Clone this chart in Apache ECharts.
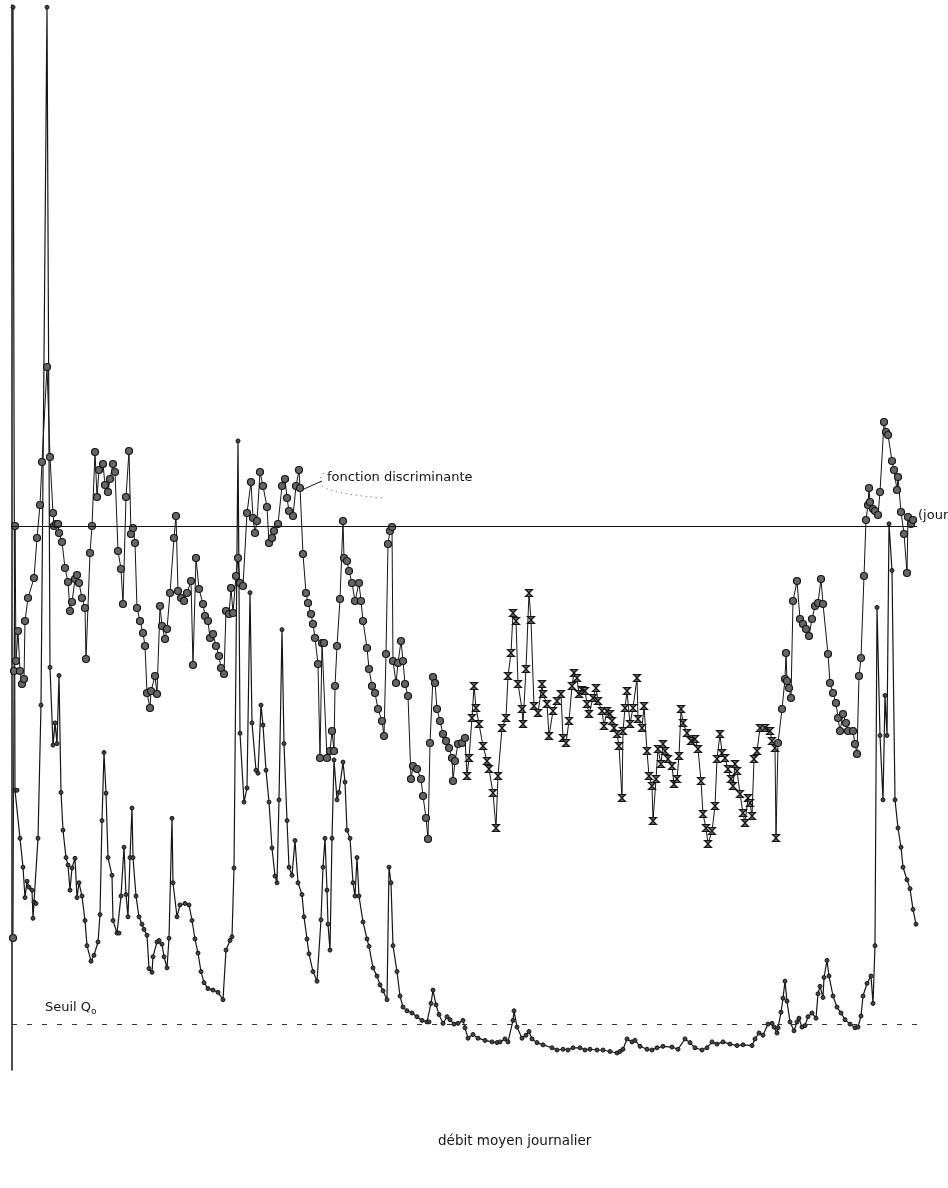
<!DOCTYPE html>
<html>
<head>
<meta charset="utf-8">
<script src="https://cdn.jsdelivr.net/npm/echarts@6/dist/echarts.min.js"></script>
<style>
  html, body { margin: 0; padding: 0; background: #fff; }
  #chart { width: 948px; height: 1188px; }
</style>
</head>
<body>
<div id="chart"></div>
<script>
// fonction discriminante : [jour, valeur]
const discriminant = [
  [0.4,-41.2],[0.8,-14.5],[1.2,0],[1.6,-13.5],[2.4,-10.5],[3.2,-14.5],[4.0,-15.8],[4.8,-15.3],[5.2,-9.5],[6.4,-7.2],
  [8.8,-5.2],[10.0,-1.2],[11.2,2.1],[12.0,6.4],[14.0,15.9],[15.2,6.9],[16.4,1.3],[16.8,0],[17.6,0.2],[18.4,0.2],
  [18.8,-0.7],[20.0,-1.6],[21.2,-4.2],[22.4,-5.6],[23.2,-8.5],[24.0,-7.6],[25.2,-5.3],[26.0,-4.9],[26.8,-5.7],[28.0,-7.2],
  [29.2,-8.2],[29.6,-13.3],[31.2,-2.7],[32.0,0],[33.2,7.4],[34.0,2.9],[34.8,5.6],[36.4,6.2],[37.2,4.1],[38.4,3.4],
  [39.2,4.7],[40.4,6.2],[41.2,5.4],[42.4,-2.5],[43.6,-4.3],[44.4,-7.8],[45.6,2.9],[46.8,7.5],[47.6,-0.8],[48.4,-0.2],
  [49.2,-1.7],[50.0,-8.2],[51.2,-9.5],[52.4,-10.7],[53.2,-12.0],[54.0,-16.7],[55.2,-18.2],[55.6,-16.5],[57.2,-15.0],[58.0,-16.8],
  [59.2,-8.0],[60.0,-10.0],[61.2,-11.3],[62.0,-10.3],[63.2,-6.7],[64.8,-1.2],[65.6,1.0],[66.4,-6.5],[67.6,-7.2],[68.8,-7.5],
  [70.0,-6.7],[71.6,-5.5],[72.4,-13.9],[73.6,-3.2],[74.8,-6.3],[76.4,-7.8],[77.2,-9.0],[78.4,-9.5],[79.2,-11.2],[80.4,-10.8],
  [81.6,-12.0],[82.8,-13.0],[83.6,-14.2],[84.8,-14.8],[85.6,-8.5],[86.8,-8.8],[87.6,-6.2],[88.4,-8.7],[89.6,-5.0],[90.4,-3.2],
  [91.2,-5.7],[92.4,-6.0],[94.0,1.3],[95.6,4.4],[96.4,0.8],[97.2,-0.7],[98.0,0.5],[99.2,5.4],[100.4,4.0],[102.0,1.9],
  [102.8,-1.7],[104.0,-1.2],[104.8,-0.5],[106.4,0.2],[108.0,4.0],[109.2,4.7],[110.0,2.8],[110.8,1.5],[112.4,1.0],[113.6,4.0],
  [114.8,5.6],[115.2,3.8],[116.4,-2.8],[117.6,-6.7],[118.4,-7.7],[119.6,-8.8],[120.4,-9.8],[121.2,-11.2],[122.4,-13.8],[123.2,-23.2],
  [124.0,-11.7],[124.8,-11.7],[126.0,-23.2],[127.2,-22.5],[128.0,-20.5],[128.8,-22.5],[129.2,-16.0],[130.0,-12.0],[131.2,-7.3],[132.4,0.5],
  [132.8,-3.2],[134.0,-3.5],[134.8,-4.5],[136.0,-5.7],[137.2,-7.5],[138.8,-5.7],[139.6,-7.5],[140.4,-9.5],[142.0,-12.2],[142.8,-14.3],
  [144.0,-16.0],[145.2,-16.7],[146.4,-18.3],[148.0,-19.5],[148.8,-21.0],[149.6,-12.8],[150.4,-1.8],[151.2,-0.5],[152.0,-0.1],[152.4,-13.5],
  [153.6,-15.7],[154.4,-13.7],[155.6,-11.5],[156.4,-13.5],[157.2,-15.8],[158.4,-17.0],[159.6,-25.3],[160.4,-24.0],[162.0,-24.3],[163.6,-25.3],
  [164.4,-27.0],[165.6,-29.2],[166.4,-31.3],[167.2,-21.7],[168.4,-15.1],[169.2,-15.7],[170.0,-18.3],[171.2,-19.5],[172.4,-20.8],[173.6,-21.5],
  [174.8,-22.2],[176.0,-23.2],[176.4,-25.5],[177.2,-23.5],[178.4,-21.8],[180.0,-21.7],[181.2,-21.2],[182.0,-25.0],[182.8,-23.2],[184.0,-19.2],
  [184.8,-16.0],[185.6,-18.2],[186.8,-19.8],[188.4,-22.0],[190.0,-23.5],[190.8,-24.3],[192.4,-26.7],[193.6,-30.2],[194.4,-25.0],[196.0,-20.2],
  [197.6,-19.2],[198.4,-15.0],[199.6,-12.7],[200.4,-8.7],[201.6,-9.5],[202.4,-15.8],[204.0,-18.3],[204.4,-19.8],[205.6,-14.3],[206.8,-6.7],
  [207.6,-9.4],[208.8,-18.0],[210.4,-18.7],[212.0,-15.8],[212.4,-16.8],[214.0,-17.8],[214.8,-21.0],[216.4,-18.5],[218.0,-17.5],[219.6,-16.8],
  [220.4,-21.2],[221.6,-21.7],[222.8,-19.5],[224.0,-16.0],[224.8,-14.7],[226.0,-15.2],[226.8,-16.8],[228.0,-16.4],[229.2,-16.5],[230.0,-17.8],
  [230.8,-18.8],[232.4,-17.2],[233.6,-16.2],[234.4,-17.5],[236.0,-18.5],[236.8,-20.0],[238.0,-18.5],[239.2,-18.8],[240.0,-19.5],[240.8,-20.2],
  [242.0,-20.8],[242.8,-22.0],[244.0,-27.2],[244.4,-20.5],[245.2,-18.2],[246.0,-16.5],[247.2,-19.8],[248.4,-18.2],[250.0,-15.2],[250.4,-19.3],
  [252.0,-20.2],[252.8,-18.0],[254.0,-22.5],[254.8,-25.0],[256.0,-26.0],[256.4,-29.5],[257.6,-25.3],[258.4,-22.3],[259.6,-23.8],[260.4,-21.8],
  [261.2,-22.5],[262.4,-23.3],[264.0,-24.0],[264.8,-25.8],[266.0,-25.3],[266.8,-23.0],[267.6,-18.3],[268.4,-19.7],[270.0,-20.7],[271.6,-21.5],
  [273.2,-21.3],[274.4,-22.3],[275.6,-25.5],[276.4,-28.8],[277.6,-30.2],[278.4,-31.8],[280.0,-30.5],[281.2,-28.0],[282.0,-23.3],[283.2,-20.8],
  [284.0,-22.7],[285.2,-23.2],[286.4,-24.3],[287.6,-25.3],[288.4,-26.0],[289.2,-23.8],[290.0,-24.5],[291.2,-26.8],[292.4,-28.7],[293.2,-29.7],
  [294.4,-27.2],[295.2,-27.7],[296.0,-29.0],[296.8,-23.3],[298.0,-22.5],[299.2,-20.2],[301.2,-20.2],[303.2,-20.5],[304.0,-21.5],[305.2,-22.2],
  [305.6,-31.2],[306.4,-21.7],[308.0,-18.3],[309.2,-15.3],[309.6,-12.7],[310.0,-15.5],[310.8,-16.2],[311.6,-17.2],[312.4,-7.5],[314.0,-5.5],
  [315.2,-9.3],[316.4,-9.8],[317.6,-10.3],[318.8,-11.0],[320.0,-9.3],[321.2,-8.0],[322.4,-7.7],[323.6,-5.3],[324.4,-7.8],[326.4,-12.8],
  [327.2,-15.7],[328.4,-16.7],[329.6,-17.7],[330.4,-19.2],[331.2,-20.5],[332.4,-18.8],[333.6,-19.7],[334.4,-20.5],[336.4,-20.5],[337.2,-21.8],
  [338.0,-22.8],[338.8,-15.0],[339.6,-13.2],[340.8,-5.0],[341.6,0.6],[342.4,2.1],[342.8,3.8],[343.2,2.4],[344.4,1.7],[345.2,1.5],
  [346.4,1.1],[347.2,3.4],[348.8,10.4],[349.6,9.4],[350.4,9.1],[352.0,6.5],[352.8,5.6],[354.0,3.6],[354.4,4.9],[355.6,1.4],
  [356.8,-0.8],[358.0,-4.7],[358.4,0.9],[359.6,0.2],[360.4,0.6]
]

// débit moyen journalier : [jour, débit]
const debit = [
  [0.4,142.1],[1.2,36.3],[2.0,36.3],[3.2,29.8],[4.4,25.9],[5.2,21.8],[6.0,24.0],[6.8,23.2],[8.0,22.8],[8.4,19.0],
  [8.8,21.2],[9.6,21.0],[10.4,29.8],[11.6,47.8],[14.0,142.1],[15.2,52.9],[16.4,42.4],[17.2,45.4],[18.0,42.6],[18.8,51.8],
  [19.6,36.0],[20.4,30.9],[21.6,27.2],[22.4,26.2],[23.2,22.8],[24.0,25.8],[25.2,27.1],[26.0,21.8],[26.8,23.8],[28.0,22.0],
  [29.2,18.7],[30.0,15.3],[31.6,13.2],[32.8,14.0],[34.4,15.8],[35.2,19.5],[36.0,32.2],[36.8,41.4],[37.6,35.9],[38.4,27.2],
  [40.0,24.8],[40.4,18.7],[42.0,17.0],[42.8,17.0],[43.6,22.0],[44.8,28.6],[45.6,22.2],[46.4,19.2],[47.2,27.2],[48.0,33.9],
  [48.4,27.2],[49.6,22.0],[50.8,19.2],[52.0,18.2],[52.8,17.5],[54.0,16.7],[54.8,12.2],[56.0,11.7],[56.4,13.8],[58.0,15.8],
  [58.8,16.0],[60.0,15.5],[60.8,13.8],[62.0,12.3],[62.8,16.3],[64.0,32.5],[64.4,23.8],[66.0,19.2],[67.2,20.8],[69.2,21.0],
  [70.8,20.8],[72.0,18.7],[73.2,16.2],[74.4,14.3],[75.6,11.8],[76.8,10.3],[78.4,9.5],[80.4,9.3],[82.4,9.0],[84.4,8.0],
  [85.6,14.7],[87.2,16.0],[88.0,16.5],[88.8,25.8],[90.4,83.5],[91.2,44.0],[92.8,34.7],[94.0,36.6],[95.2,63.0],[96.0,45.4],
  [97.6,39.0],[98.4,38.6],[99.6,47.8],[100.4,45.1],[101.6,39.0],[102.8,34.7],[104.0,28.5],[105.2,24.7],[106.0,23.8],[106.8,35.0],
  [108.0,58.0],[108.8,42.6],[110.0,32.2],[110.8,25.9],[112.0,24.8],[113.2,29.5],[114.4,23.8],[116.0,22.2],[116.8,19.2],[118.0,16.2],
  [118.8,14.2],[120.4,11.8],[122.0,10.5],[123.6,18.8],[124.4,25.9],[125.2,29.8],[126.0,22.8],[126.4,18.2],[127.2,14.7],[128.0,29.8],
  [128.8,40.4],[130.0,35.0],[130.8,36.0],[132.4,40.1],[133.2,37.4],[134.0,30.9],[135.2,29.8],[136.4,23.8],[137.2,22.0],[138.0,27.2],
  [138.8,22.0],[140.4,18.5],[142.0,16.2],[142.8,15.2],[144.4,12.3],[146.0,11.2],[147.2,10.0],[148.4,9.2],[150.0,8.0],[150.8,25.9],
  [151.6,23.8],[152.4,15.3],[154.0,11.8],[155.2,8.5],[156.4,7.0],[158.0,6.5],[160.0,6.2],[162.0,5.7],[164.0,5.2],[166.0,5.0],
  [166.8,5.0],[167.6,7.5],[168.4,9.3],[169.6,7.3],[170.8,6.0],[172.4,4.8],[174.0,5.7],[175.2,5.3],[176.8,4.7],[178.4,4.8],
  [180.4,5.2],[181.2,4.2],[182.4,2.8],[184.4,3.3],[186.4,2.8],[189.2,2.5],[192.0,2.3],[194.0,2.2],[195.2,2.3],[197.2,2.7],
  [198.4,2.3],[200.4,5.2],[200.8,6.5],[202.0,4.3],[204.0,2.8],[205.6,3.2],[206.8,3.7],[208.0,2.7],[210.0,2.2],[212.4,1.9],
  [216.0,1.5],[218.0,1.2],[220.4,1.3],[222.4,1.2],[224.4,1.5],[227.2,1.5],[229.2,1.2],[231.2,1.3],[234.0,1.2],[236.4,1.2],
  [239.2,1.0],[242.0,0.8],[243.2,1.0],[244.4,1.3],[246.0,2.7],[248.0,2.3],[249.2,2.5],[251.2,1.7],[254.0,1.3],[256.0,1.2],
  [258.0,1.5],[260.4,1.7],[264.0,1.6],[266.4,1.3],[269.2,2.7],[271.2,2.2],[273.2,1.5],[276.0,1.2],[278.0,1.5],[280.0,2.3],
  [282.0,2.0],[284.4,2.3],[287.2,2.0],[290.0,1.8],[292.4,1.9],[296.0,1.8],[297.2,2.7],[298.8,3.5],[300.4,3.2],[302.4,4.7],
  [304.0,4.8],[304.8,4.3],[306.0,3.5],[306.4,4.2],[307.6,6.3],[308.4,8.2],[309.2,10.5],[310.0,7.8],[311.2,5.0],[312.8,3.8],
  [314.0,5.0],[314.8,5.5],[316.0,4.3],[317.2,4.5],[318.4,5.7],[320.0,6.2],[321.6,5.5],[322.4,8.8],[323.2,9.8],[324.4,8.3],
  [324.8,11.0],[326.0,13.3],[326.8,11.2],[328.4,8.5],[330.0,7.0],[331.6,6.2],[333.2,5.3],[335.2,4.7],[337.2,4.2],[338.4,4.3],
  [339.6,5.8],[340.4,8.5],[342.0,10.2],[343.6,11.2],[344.4,7.5],[345.2,15.3],[346.0,61.0],[347.2,43.7],[348.4,35.0],[349.2,49.1],
  [350.0,43.7],[350.8,72.3],[352.0,66.0],[353.2,35.0],[354.4,31.2],[355.6,28.6],[356.4,25.9],[358.0,24.2],[359.2,23.0],[360.4,20.2],
  [361.6,18.2]
]

const seuilQ0 = 4.7          // seuil de débit
const jourFin = 362          // fin de la ligne "jour" (fonction = 0)
const seuilFin = 366
const starDays = [182, 306]  // période marquée par des étoiles

const ink = '#151515'
const hourglass = 'path://M0,0L10,0L0,10L10,10Z'

var myChart = echarts.init(document.getElementById('chart'), null, { renderer: 'canvas' })

var option = {
  backgroundColor: '#fff',
  animation: false,
  grid: { left: 12, top: 5, width: 935, height: 1065 },
  xAxis: {
    type: 'value', min: 0, max: 374,
    axisLine: { show: false }, axisTick: { show: false },
    axisLabel: { show: false }, splitLine: { show: false },
  },
  yAxis: [
    {
      // débit
      type: 'value', min: -1.5, max: 142.4, position: 'left',
      axisLine: { show: true, onZero: false, lineStyle: { color: ink, width: 1.5 } },
      axisTick: { show: false }, axisLabel: { show: false }, splitLine: { show: false },
    },
    {
      // fonction discriminante
      type: 'value', min: -54.4, max: 52.1, position: 'left',
      axisLine: { show: false }, axisTick: { show: false },
      axisLabel: { show: false }, splitLine: { show: false },
    },
  ],
  series: [
    {
      name: 'débit moyen journalier',
      type: 'line',
      yAxisIndex: 0,
      data: debit,
      symbol: 'circle',
      symbolSize: 4,
      itemStyle: { color: '#444', borderColor: ink, borderWidth: 1 },
      lineStyle: { color: ink, width: 1.2 },
      markLine: {
        silent: true,
        symbol: 'none',
        label: { show: false },
        lineStyle: { color: '#333', width: 1, type: [5, 10] },
        data: [[{ coord: [0, seuilQ0] }, { coord: [seuilFin, seuilQ0] }]],
      },
    },
    {
      name: 'fonction discriminante',
      type: 'line',
      yAxisIndex: 1,
      data: discriminant,
      symbol: function (value) {
        return value[0] >= starDays[0] && value[0] <= starDays[1] ? hourglass : 'circle'
      },
      symbolSize: 7,
      itemStyle: { color: '#666', borderColor: ink, borderWidth: 1.2 },
      lineStyle: { color: ink, width: 1 },
      markLine: {
        silent: true,
        symbol: 'none',
        label: { show: false },
        lineStyle: { color: ink, width: 1.2, type: 'solid' },
        data: [[{ coord: [0, 0] }, { coord: [jourFin, 0] }]],
      },
    },
  ],
  graphic: [
    {
      type: 'text', left: 327, top: 471,
      style: { text: 'fonction discriminante', font: '13px "DejaVu Sans"', fill: ink },
    },
    {
      type: 'line', shape: { x1: 304, y1: 489, x2: 322, y2: 481 },
      style: { stroke: ink, lineWidth: 1 },
    },
    {
      type: 'bezierCurve',
      shape: { x1: 324, y1: 473, cpx1: 308, cpy1: 490, cpx2: 340, cpy2: 494, x2: 382, y2: 498 },
      style: { stroke: '#555', lineWidth: 1, lineDash: [1, 4], fill: null },
    },
    {
      type: 'text', left: 918, top: 509,
      style: { text: '(jour', font: '13px "DejaVu Sans"', fill: ink },
    },
    {
      type: 'text', left: 45, top: 1001,
      style: {
        text: 'Seuil Q{sub|o}',
        font: '13px "DejaVu Sans"', fill: ink,
        rich: { sub: { font: '9px "DejaVu Sans"', fill: ink, padding: [8, 0, 0, 0] } },
      },
    },
    {
      type: 'text', left: 438, top: 1134,
      style: { text: 'débit moyen journalier', font: '13.5px "DejaVu Sans"', fill: ink },
    },
  ],
}

option && myChart.setOption(option)
window.addEventListener('resize', function () {
  myChart.resize()
})
</script>
</body>
</html>
